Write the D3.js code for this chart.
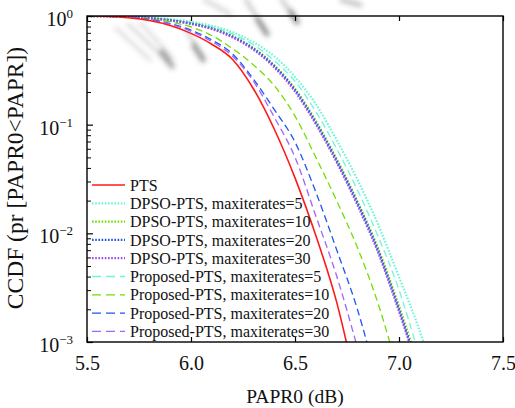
<!DOCTYPE html>
<html>
<head>
<meta charset="utf-8">
<script src="https://cdn.jsdelivr.net/npm/d3@7"></script>
<style>
  html, body { margin: 0; padding: 0; background: #fff; }
  svg { display: block; font-family: "Liberation Serif", "Times New Roman", serif; }
</style>
</head>
<body>
<svg id="chart" width="515" height="408"></svg>
<script>
// PAPR threshold grid (dB)
const papr = [5.5, 5.6, 5.7, 5.8, 5.9, 6.0, 6.1, 6.2, 6.3, 6.4, 6.5, 6.6, 6.7, 6.8, 6.9, 7.0, 7.1, 7.2];

// CCDF values per scheme (null = beyond the plotted range)
const ccdfPTS   = [1, 0.991, 0.964, 0.908, 0.817, 0.692, 0.550, 0.398, 0.214, 0.0912, 0.0324, 0.00955, 0.00234, 0.00035, null, null, null, null];
const ccdfDPSO5  = [1, 0.998, 0.989, 0.970, 0.938, 0.887, 0.813, 0.711, 0.575, 0.427, 0.275, 0.155, 0.0724, 0.0313, 0.0120, 0.00398, 0.00126, 0.00032];
const ccdfDPSO10 = [1, 0.995, 0.984, 0.957, 0.916, 0.855, 0.773, 0.653, 0.507, 0.353, 0.214, 0.1084, 0.0484, 0.0197, 0.00724, 0.00214, 0.00056, null];
const ccdfDPSO20 = [1, 0.995, 0.982, 0.955, 0.912, 0.851, 0.767, 0.646, 0.501, 0.347, 0.209, 0.1047, 0.0468, 0.0191, 0.00692, 0.00200, 0.00050, null];
const ccdfDPSO30 = [1, 0.995, 0.982, 0.953, 0.908, 0.845, 0.759, 0.635, 0.490, 0.337, 0.202, 0.1012, 0.0452, 0.0182, 0.00661, 0.00191, 0.00050, null];
const ccdfProp5  = [1, 0.998, 0.986, 0.966, 0.931, 0.875, 0.794, 0.684, 0.543, 0.389, 0.251, 0.132, 0.0603, 0.0251, 0.00933, 0.00302, 0.00071, null];
const ccdfProp10 = [1, 0.993, 0.977, 0.940, 0.881, 0.794, 0.661, 0.501, 0.355, 0.229, 0.120, 0.0501, 0.0200, 0.00741, 0.00224, 0.00050, null, null];
const ccdfProp20 = [1, 0.993, 0.973, 0.929, 0.851, 0.741, 0.603, 0.447, 0.263, 0.138, 0.0692, 0.0240, 0.00708, 0.00200, 0.00040, null, null, null];
const ccdfProp30 = [1, 0.993, 0.971, 0.923, 0.841, 0.724, 0.582, 0.427, 0.251, 0.1175, 0.0501, 0.01445, 0.00407, 0.00089, null, null, null, null];

// Legend labels, in legend order
const seriesNames = [
  "PTS",
  "DPSO-PTS, maxiterates=5",
  "DPSO-PTS, maxiterates=10",
  "DPSO-PTS, maxiterates=20",
  "DPSO-PTS, maxiterates=30",
  "Proposed-PTS, maxiterates=5",
  "Proposed-PTS, maxiterates=10",
  "Proposed-PTS, maxiterates=20",
  "Proposed-PTS, maxiterates=30"
];
const seriesValues = [ccdfPTS, ccdfDPSO5, ccdfDPSO10, ccdfDPSO20, ccdfDPSO30,
                      ccdfProp5, ccdfProp10, ccdfProp20, ccdfProp30];

// Axis ticks
const xTicks = [5.5, 6.0, 6.5, 7.0, 7.5];
const yExponents = [0, -1, -2, -3];

// Line styles
const styles = [
  { color: "#ff1a1a", width: 1.6, dash: null },
  { color: "#70f5d8", width: 2.2, dash: "1.6,1.6" },
  { color: "#6fe000", width: 2.2, dash: "1.6,1.6" },
  { color: "#1f55f0", width: 2.2, dash: "1.6,1.6" },
  { color: "#9a4cf2", width: 2.2, dash: "1.6,1.6" },
  { color: "#70f5d8", width: 1.3, dash: "7,4" },
  { color: "#6fe000", width: 1.3, dash: "7,4" },
  { color: "#1f55f0", width: 1.3, dash: "7,4" },
  { color: "#a066f5", width: 1.3, dash: "7,4" }
];

const svg = d3.select("#chart");
const L = 87, R = 503, T = 16, B = 342;

const x = d3.scaleLinear().domain([5.5, 7.5]).range([L, R]);
const y = d3.scaleLog().domain([1e-3, 1]).range([B, T]);

// Soft grey smudges in the upper-left background
const defs = svg.append("defs");
defs.append("filter").attr("id", "soft").attr("x", "-50%").attr("y", "-50%")
  .attr("width", "200%").attr("height", "200%")
  .append("feGaussianBlur").attr("stdDeviation", 2.6);
defs.append("clipPath").attr("id", "plotClip")
  .append("rect").attr("x", L).attr("y", T).attr("width", R - L).attr("height", B - T);

const smudges = [
  [116, 28, 150, 60, 3, 0.22], [128, 24, 168, 62, 3, 0.25], [140, 22, 172, 58, 3, 0.2],
  [162, 52, 172, 66, 6, 0.42],
  [186, 30, 204, 58, 3, 0.3], [194, 46, 203, 60, 6, 0.42],
  [205, 0, 230, 14, 4, 0.22], [246, 0, 266, 32, 4, 0.28], [258, 20, 267, 34, 6, 0.42],
  [282, 0, 297, 22, 4, 0.28], [291, 12, 297, 22, 6, 0.4], [342, 0, 360, 5, 5, 0.3]
];
const sm = svg.append("g").attr("filter", "url(#soft)");
smudges.forEach(s => {
  sm.append("line").attr("x1", s[0]).attr("y1", s[1]).attr("x2", s[2]).attr("y2", s[3])
    .attr("stroke", "#444").attr("stroke-width", s[4]).attr("stroke-linecap", "round")
    .attr("opacity", s[5]);
});

// Curves, clipped to the axes box
const line = d3.line()
  .defined(d => d[1] != null)
  .x(d => x(d[0]))
  .y(d => y(d[1]))
  .curve(d3.curveMonotoneX);

const curves = svg.append("g").attr("clip-path", "url(#plotClip)");
const drawOrder = [1, 5, 2, 3, 4, 6, 7, 8, 0];
drawOrder.forEach(i => {
  const pts = papr.map((p, k) => [p, seriesValues[i][k]]);
  const st = styles[i];
  curves.append("path")
    .attr("d", line(pts))
    .attr("fill", "none")
    .attr("stroke", st.color)
    .attr("stroke-width", st.width)
    .attr("stroke-dasharray", st.dash)
    .attr("stroke-linejoin", "round");
});

// Axes box
svg.append("rect").attr("x", L).attr("y", T).attr("width", R - L).attr("height", B - T)
  .attr("fill", "none").attr("stroke", "#000").attr("stroke-width", 1.4);

// X axis ticks (inside, bottom and top)
const xAxis = d3.axisBottom(x).tickValues(xTicks).tickSize(-5).tickFormat(d3.format(".1f")).tickPadding(14);
const gx = svg.append("g").attr("transform", `translate(0,${B})`).call(xAxis);
gx.select(".domain").remove();
gx.selectAll("line").attr("stroke", "#000").attr("stroke-width", 1.2);
gx.selectAll("text").attr("font-size", 20).attr("fill", "#111")
  .attr("font-family", "Liberation Serif, Times New Roman, serif");
const gxTop = svg.append("g").attr("transform", `translate(0,${T})`)
  .call(d3.axisTop(x).tickValues(xTicks).tickSize(-5).tickFormat(""));
gxTop.select(".domain").remove();
gxTop.selectAll("line").attr("stroke", "#000").attr("stroke-width", 1.2);

// Y axis: major and minor ticks on the left, inside
const majors = yExponents.map(e => Math.pow(10, e));
const minors = [];
[-3, -2, -1].forEach(e => { for (let m = 2; m <= 9; m++) minors.push(m * Math.pow(10, e)); });
const gyMinor = svg.append("g").attr("transform", `translate(${L},0)`)
  .call(d3.axisLeft(y).tickValues(minors).tickSize(-4).tickFormat(""));
gyMinor.select(".domain").remove();
gyMinor.selectAll("line").attr("stroke", "#000").attr("stroke-width", 1);
const gyMajor = svg.append("g").attr("transform", `translate(${L},0)`)
  .call(d3.axisLeft(y).tickValues(majors).tickSize(-6).tickFormat(""));
gyMajor.select(".domain").remove();
gyMajor.selectAll("line").attr("stroke", "#000").attr("stroke-width", 1.2);

// Y tick labels as powers of ten
yExponents.forEach(e => {
  const t = svg.append("text")
    .attr("x", 73).attr("y", y(Math.pow(10, e)) + 10)
    .attr("text-anchor", "end").attr("font-size", 20).attr("fill", "#111");
  t.append("tspan").text("10");
  t.append("tspan").attr("font-size", 13).attr("dy", -8).text(e === 0 ? "0" : "\u2212" + (-e));
});

// Axis titles
svg.append("text").attr("x", (L + R) / 2).attr("y", 403)
  .attr("text-anchor", "middle").attr("font-size", 19.5).attr("fill", "#111")
  .text("PAPR0 (dB)");
svg.append("text")
  .attr("transform", `translate(23,${(T + B) / 2 - 1}) rotate(-90)`)
  .attr("text-anchor", "middle").attr("font-size", 23.5).attr("fill", "#111")
  .text("CCDF (pr [PAPR0<PAPR])");

// Legend
const legend = svg.append("g");
seriesNames.forEach((name, i) => {
  const cy = 185 + i * 18.3;
  const st = styles[i];
  legend.append("line").attr("x1", 92).attr("x2", 125).attr("y1", cy).attr("y2", cy)
    .attr("stroke", st.color).attr("stroke-width", st.width)
    .attr("stroke-dasharray", st.dash ? (i >= 5 ? "9,5" : "1.6,1.6") : null);
  legend.append("text").attr("x", 130).attr("y", cy).attr("dy", "0.35em")
    .attr("font-size", 16).attr("fill", "#111").text(name);
});
</script>
</body>
</html>
